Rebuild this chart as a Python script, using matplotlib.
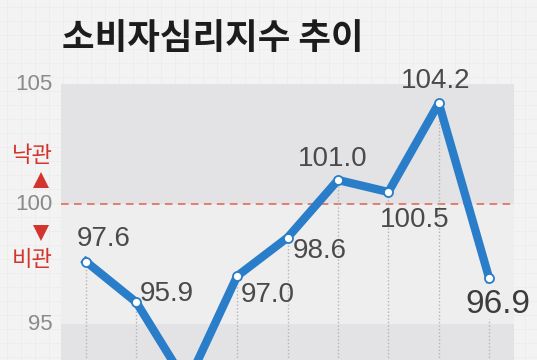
import numpy as np
import matplotlib
matplotlib.use("Agg")
import matplotlib.pyplot as plt
from matplotlib import font_manager

# consumer sentiment index (CCSI), monthly
values = [97.6, 95.9, 92.5, 97.0, 98.6, 101.0, 100.5, 104.2, 96.9]
labels = ["97.6", "95.9", "", "97.0", "98.6", "101.0", "100.5", "104.2", "96.9"]
yticks = [95, 100, 105]
title = "소비자심리지수 추이"
up_label, down_label = "낙관", "비관"

# label offsets in points, relative to each marker
offsets = [(13, 16), (22, 6), (0, 0), (22, -14), (23, -10), (-4, 15), (19, -20), (-2, 16), (6, -19)]

have = {f.name for f in font_manager.fontManager.ttflist}
NUM = "Liberation Sans Narrow" if "Liberation Sans Narrow" in have else "Liberation Sans"
KR = ["Noto Sans CJK KR", "DejaVu Sans"]
BLUE = "#2a7dc8"
RED = "#d3342e"
GREY_BAND = "#e3e3e5"

fig = plt.figure(figsize=(5.37, 3.60), dpi=100)
fig.patch.set_facecolor("#f3f3f3")

# faint graph-paper background
bg = fig.add_axes([0, 0, 1, 1], zorder=0)
bg.set_xlim(0, 537)
bg.set_ylim(360, 0)
bg.axis("off")
for g in np.arange(7, 537, 14):
    bg.axvline(g, color="#ededed", lw=0.6)
for g in np.arange(7, 360, 14):
    bg.axhline(g, color="#ededed", lw=0.6)

ax = fig.add_axes([0, 0, 1, 1], zorder=1)
ax.patch.set_alpha(0)
ax.set_xlim(-86 / 50.4, (537 - 86) / 50.4)
ax.set_ylim(93.5, 108.5)
ax.axis("off")

x = np.arange(len(values))
x0, x1 = -0.5, len(values) - 0.5
ax.fill_between([x0, x1], 100, 105, color=GREY_BAND, lw=0, zorder=1)
ax.fill_between([x0, x1], 95, 100, color="#eeeeee", lw=0, zorder=1)
ax.fill_between([x0, x1], 90, 95, color=GREY_BAND, lw=0, zorder=1)
ax.plot([x0, x1], [100, 100], color="#e0604f", lw=1.1, ls=(0, (5, 3.5)), zorder=2)

# dotted drop lines
for i, v in enumerate(values):
    top = v if i != len(values) - 1 else 95.2
    ax.plot([i, i], [90, top], color="#b5b5b5", lw=1.0, ls=(0, (1, 1.5)), zorder=2)

ax.plot(x, values, color=BLUE, lw=6, solid_joinstyle="round", zorder=3)
ax.plot(x, values, ls="none", marker="o", ms=6.5, mfc="white", mec=BLUE, mew=1.3, zorder=4)

narrow = NUM.endswith("Narrow")
for i, (v, t) in enumerate(zip(values, labels)):
    if not t:
        continue
    big = i == len(values) - 1
    size = (27 if big else 22) if narrow else (24 if big else 20)
    ax.annotate(t, (i, v), xytext=offsets[i], textcoords="offset points",
                ha="center", va="center", fontsize=size,
                family=NUM, color="#3c3c3c" if big else "#4a4a4a", zorder=5)

# y tick labels at the left
for t in yticks:
    ax.text(-0.66, t, str(t), ha="right", va="center", fontsize=16,
            family=NUM, color="#8a8a8a")

ax.text(-1.07, 102.0, up_label, ha="center", va="center", fontsize=16,
        family=KR, weight="medium", color=RED)
ax.plot([-0.9], [101.0], marker="^", ms=11, color=RED, mew=0, ls="none")
ax.plot([-0.9], [98.8], marker="v", ms=11, color=RED, mew=0, ls="none")
ax.text(-1.07, 97.7, down_label, ha="center", va="center", fontsize=16,
        family=KR, weight="medium", color=RED)

fig.text(62 / 537, 1 - 39 / 360, title, ha="left", va="center", fontsize=25.5,
         family=KR, weight="bold", color="#1c1c1c")

fig.savefig("out.png", dpi=100, facecolor=fig.get_facecolor())
